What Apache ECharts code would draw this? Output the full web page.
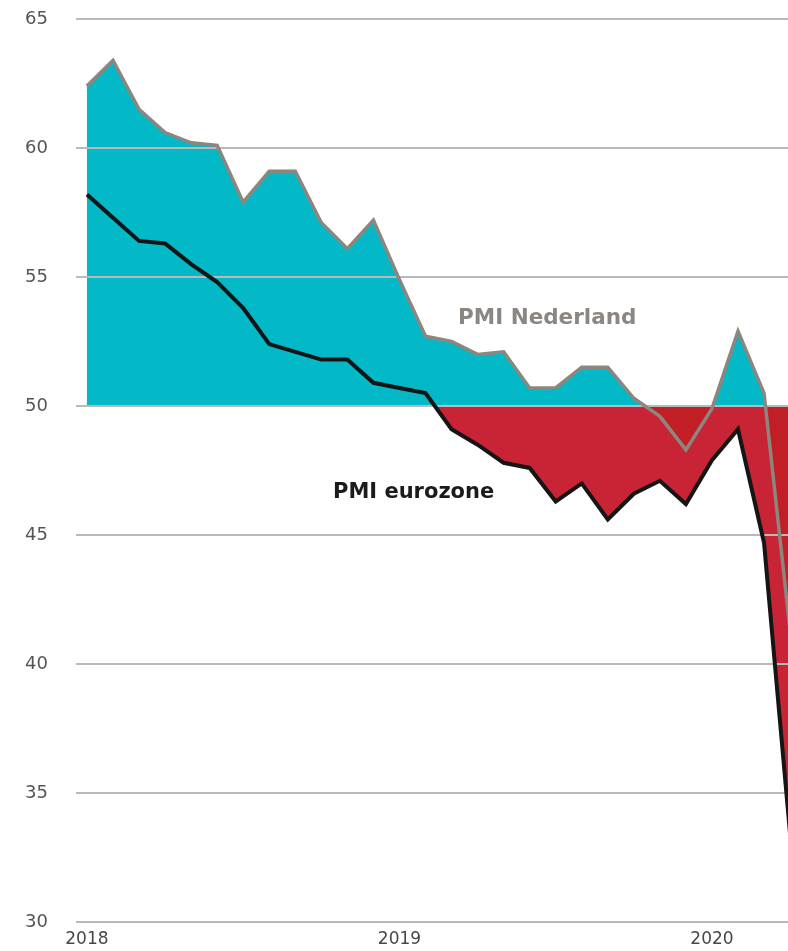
<!DOCTYPE html>
<html>
<head>
<meta charset="utf-8">
<title>PMI Nederland vs eurozone</title>
<script src="https://cdn.jsdelivr.net/npm/echarts@6/dist/echarts.min.js"></script>
<style>
  html, body { margin: 0; padding: 0; background: #fff; }
  #chart { width: 788px; height: 951px; }
</style>
</head>
<body>
<div id="chart"></div>
<script>
// maanden jan 2018 t/m apr 2020
var months = [
  '2018-01','2018-02','2018-03','2018-04','2018-05','2018-06','2018-07','2018-08','2018-09','2018-10','2018-11','2018-12',
  '2019-01','2019-02','2019-03','2019-04','2019-05','2019-06','2019-07','2019-08','2019-09','2019-10','2019-11','2019-12',
  '2020-01','2020-02','2020-03','2020-04'
]
var pmiNederland = [
  62.4, 63.4, 61.5, 60.6, 60.2, 60.1, 57.9, 59.1, 59.1, 57.1, 56.1, 57.2,
  54.9, 52.7, 52.5, 52.0, 52.1, 50.7, 50.7, 51.5, 51.5, 50.3, 49.6, 48.3,
  49.9, 52.9, 50.5, 41.3
]
var pmiEurozone = [
  58.2, 57.3, 56.4, 56.3, 55.5, 54.8, 53.8, 52.4, 52.1, 51.8, 51.8, 50.9,
  50.7, 50.5, 49.1, 48.5, 47.8, 47.6, 46.3, 47.0, 45.6, 46.6, 47.1, 46.2,
  47.9, 49.1, 44.7, 33.4
]
var yearTicks = [0, 12, 24]
var yTicks = [30, 35, 40, 45, 50, 55, 60, 65]
var neutral = 50

function pairs(arr) {
  return arr.map(function (v, i) { return [i, v] })
}

var chart = echarts.init(document.getElementById('chart'))

chart.setOption({
  animation: false,
  grid: {
    left: 76,
    right: 0,
    top: 19,
    bottom: 29
  },
  xAxis: {
    type: 'value',
    min: -0.42,
    max: 26.92,
    axisLine: { show: false },
    axisTick: { show: false },
    splitLine: { show: false },
    axisLabel: {
      customValues: yearTicks,
      margin: 9,
      fontFamily: 'DejaVu Sans',
      fontSize: 17,
      color: '#474747',
      formatter: function (v) { return months[v].slice(0, 4) }
    }
  },
  yAxis: {
    type: 'value',
    z: 2, // rasterlijnen over de vlakken, onder de lijnen
    min: yTicks[0],
    max: yTicks[yTicks.length - 1],
    interval: 5,
    axisLine: { show: false },
    axisTick: { show: false },
    axisLabel: {
      margin: 28,
      fontFamily: 'DejaVu Sans',
      fontSize: 18,
      color: '#555'
    },
    splitLine: {
      lineStyle: { color: '#b9b9b9', width: 2 }
    }
  },
  // kleur van de vlakken boven/onder 50, begrensde stukken (open stukken geven geen kleurstops)
  visualMap: [
    {
      show: false,
      type: 'piecewise',
      seriesIndex: 0,
      dimension: 1,
      pieces: [
        { gte: 0, lte: neutral, color: '#c82436' },
        { gt: neutral, lte: 100, color: 'rgba(255,255,255,0)' }
      ]
    },
    {
      show: false,
      type: 'piecewise',
      seriesIndex: 1,
      dimension: 1,
      pieces: [
        { gte: 0, lte: neutral, color: '#c11e26' },
        { gt: neutral, lte: 100, color: '#03b8c7' }
      ]
    }
  ],
  series: [
    {
      // rood vlak eurozone onder 50
      name: 'eurozone vlak',
      type: 'line',
      data: pairs(pmiEurozone),
      symbol: 'none',
      z: 1,
      lineStyle: { width: 0 },
      areaStyle: { origin: neutral, opacity: 1 }
    },
    {
      // blauw vlak Nederland boven 50
      name: 'Nederland vlak',
      type: 'line',
      data: pairs(pmiNederland),
      symbol: 'none',
      z: 1,
      lineStyle: { width: 0 },
      areaStyle: { origin: neutral, opacity: 1 }
    },
    {
      name: 'PMI Nederland',
      type: 'line',
      data: pairs(pmiNederland),
      symbol: 'none',
      z: 3,
      lineStyle: { color: '#8d867f', width: 3.5, join: 'miter' }
    },
    {
      name: 'PMI eurozone',
      type: 'line',
      data: pairs(pmiEurozone),
      symbol: 'none',
      z: 4,
      lineStyle: { color: '#151515', width: 4, join: 'miter' }
    }
  ],
  graphic: [
    {
      type: 'text',
      left: 458,
      top: 307,
      z: 10,
      style: {
        text: 'PMI Nederland',
        fill: '#8b8681',
        font: 'bold 21.5px "DejaVu Sans"'
      }
    },
    {
      type: 'text',
      left: 333,
      top: 482,
      z: 10,
      style: {
        text: 'PMI eurozone',
        fill: '#1b1b1b',
        font: 'bold 21px "DejaVu Sans"'
      }
    }
  ]
})
</script>
</body>
</html>
